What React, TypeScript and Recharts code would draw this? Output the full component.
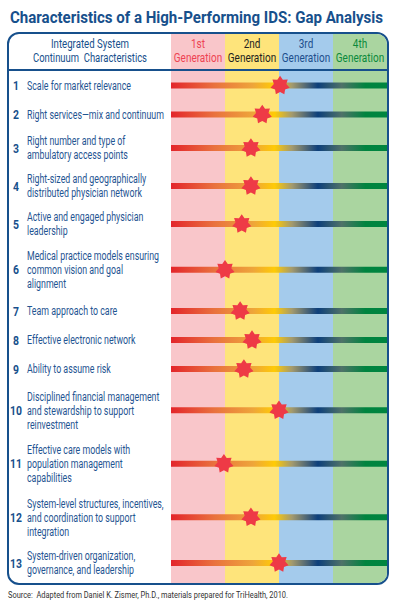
import {
  ComposedChart,
  ReferenceArea,
  Scatter,
  XAxis,
  YAxis,
} from "recharts";

const generations = ["1st", "2nd", "3rd", "4th"];
const rowLabels: string[][] = [
  ["Scale for market relevance"],
  ["Right services\u2014mix and continuum"],
  ["Right number and type of", "ambulatory access points"],
  ["Right-sized and geographically", "distributed physician network"],
  ["Active and engaged physician", "leadership"],
  ["Medical practice models ensuring", "common vision and goal", "alignment"],
  ["Team approach to care"],
  ["Effective electronic network"],
  ["Ability to assume risk"],
  ["Disciplined financial management", "and stewardship to support", "reinvestment"],
  ["Effective care models with", "population management", "capabilities"],
  ["System-level structures, incentives,", "and coordination to support", "integration"],
  ["System-driven organization,", "governance, and leadership"],
];
// current position of each characteristic, in generations (0 = start of 1st, 4 = end of 4th)
const positions = [2.02, 1.69, 1.48, 1.48, 1.31, 1.0, 1.28, 1.5, 1.35, 2.0, 0.98, 1.48, 2.0];

const FONT = "Roboto, 'Noto Sans', sans-serif";
const NAVY = "#17508c";
const LABEL = "#1f5592";
const bandFill = ["#f9c6ca", "#fee47b", "#a4cbec", "#aad5a0"];
const headColor = ["#ee4352", "#231f20", "#1d4f8c", "#0b8a3c"];

// layout: row height depends on the number of text lines
const HEADER = 37;
const CHART_H = 549;
const rowHeight = [0, 29, 38, 53.5];
const rowCenters: number[] = [];
{
  let top = HEADER;
  rowLabels.forEach((lines) => {
    const h = rowHeight[lines.length];
    rowCenters.push(top + h / 2);
    top += h;
  });
}
const stars = positions.map((x, i) => ({ x, y: rowCenters[i] }));

// squeezed text, to mimic the condensed face of the original
function Cond({ x, y, anchor = "start", size, weight = "normal", fill, sq = 0.78, children }: any) {
  return (
    <text
      transform={`translate(${x},${y}) scale(${sq},1)`}
      textAnchor={anchor}
      fontSize={size}
      fontWeight={weight}
      fill={fill}
      fontFamily={FONT}
    >
      {children}
    </text>
  );
}

function Star(props: any) {
  const { cx, cy } = props;
  const pts: string[] = [];
  for (let k = 0; k < 14; k++) {
    const r = k % 2 === 0 ? 9.8 : 6.4;
    const a = -Math.PI / 2 + (k * Math.PI) / 7;
    pts.push(`${cx + r * Math.cos(a)},${cy + r * Math.sin(a)}`);
  }
  return <polygon points={pts.join(" ")} fill="#ee3a46" />;
}

function RowTick(props: any) {
  const { y, index } = props;
  const lines = rowLabels[index] || [];
  const lh = 14;
  const y0 = y - ((lines.length - 1) * lh) / 2;
  return (
    <g>
      <Cond x={7} y={y + 4.5} anchor="middle" size={13} weight="bold" fill={NAVY} sq={0.8}>
        {index + 1}
      </Cond>
      {lines.map((l, j) => (
        <Cond key={j} x={18} y={y0 + j * lh + 4.3} size={12} fill={LABEL} sq={0.735}>
          {l}
        </Cond>
      ))}
    </g>
  );
}

function HeadLabel(i: number) {
  return (p: any) => {
    const vb = p.viewBox;
    const cx = vb.x + vb.width / 2;
    return (
      <g>
        <Cond x={cx} y={13.5} anchor="middle" size={13.4} fill={headColor[i]} sq={0.745}>
          {generations[i]}
        </Cond>
        <Cond x={cx} y={28} anchor="middle" size={13.4} fill={headColor[i]} sq={0.745}>
          Generation
        </Cond>
      </g>
    );
  };
}

export default function App() {
  return (
    <div style={{ position: "absolute", left: 0, top: 0, width: 396, height: 609, background: "#fff" }}>
      <div
        style={{
          position: "absolute",
          left: 7,
          top: 32,
          width: 382,
          height: 553,
          boxSizing: "border-box",
          border: `2px solid ${NAVY}`,
          borderRadius: 12,
          overflow: "hidden",
        }}
      >
        <ComposedChart width={378} height={CHART_H} margin={{ top: 0, right: 0, bottom: 0, left: 0 }}>
          <defs>
            <linearGradient id="gapGrad" x1="0" y1="0" x2="1" y2="0">
              <stop offset="0" stopColor="#e3252b" />
              <stop offset="0.2" stopColor="#e9713e" />
              <stop offset="0.38" stopColor="#eea53a" />
              <stop offset="0.48" stopColor="#ffcb05" />
              <stop offset="0.56" stopColor="#a39a6e" />
              <stop offset="0.68" stopColor="#0d3f7b" />
              <stop offset="0.79" stopColor="#4f7268" />
              <stop offset="0.9" stopColor="#00843f" />
              <stop offset="1" stopColor="#008540" />
            </linearGradient>
          </defs>
          <XAxis type="number" dataKey="x" domain={[0, 4]} hide />
          <YAxis
            type="number"
            dataKey="y"
            domain={[0, CHART_H]}
            reversed
            ticks={rowCenters}
            interval={0}
            width={162}
            axisLine={false}
            tickLine={false}
            tick={<RowTick />}
          />
          {generations.map((g, i) => (
            <ReferenceArea
              key={g}
              x1={i}
              x2={i + 1}
              fill={bandFill[i]}
              fillOpacity={1}
              stroke="none"
              label={HeadLabel(i)}
            />
          ))}
          {rowCenters.map((c, i) => (
            <ReferenceArea
              key={"bar" + i}
              x1={0}
              x2={4}
              y1={c - 3}
              y2={c + 3}
              fill="url(#gapGrad)"
              fillOpacity={1}
              stroke="none"
            />
          ))}
          <Scatter data={stars} shape={<Star />} isAnimationActive={false} />
        </ComposedChart>
      </div>
      <svg
        width={396}
        height={609}
        style={{ position: "absolute", left: 0, top: 0, pointerEvents: "none" }}
        fontFamily={FONT}
      >
        <text x={10} y={22.5} fontSize={16} fontWeight="bold" fill={NAVY} textLength={373} lengthAdjust="spacingAndGlyphs">
          Characteristics of a High-Performing IDS: Gap Analysis
        </text>
        <text x={90} y={47.5} textAnchor="middle" fontSize={13.2} fill={NAVY} textLength={78} lengthAdjust="spacingAndGlyphs">
          Integrated System
        </text>
        <text x={90} y={62} textAnchor="middle" fontSize={13.2} fill={NAVY} textLength={114} lengthAdjust="spacingAndGlyphs">
          {"Continuum\u00a0 Characteristics"}
        </text>
        <rect x={8} y={69} width={380} height={2} fill={NAVY} />
        <text x={8} y={598} fontSize={9.8} fill="#333" textLength={280} lengthAdjust="spacingAndGlyphs">
          {"Source:\u00a0 Adapted from Daniel K. Zismer, Ph.D., materials prepared for TriHealth, 2010."}
        </text>
      </svg>
    </div>
  );
}
